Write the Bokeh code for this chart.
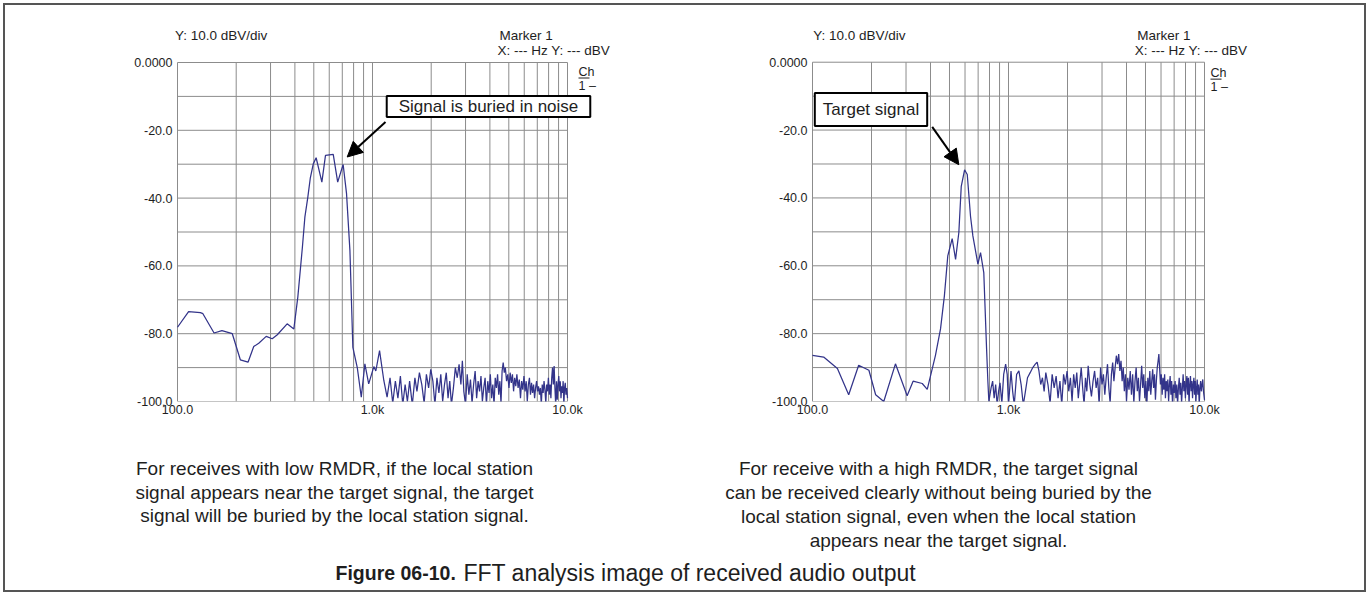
from bokeh.plotting import figure
from bokeh.models import FixedTicker, Label, Arrow, NormalHead, Range1d
from bokeh.layouts import column, row
from bokeh.embed import file_html
from bokeh.resources import INLINE

FONT = "Liberation Sans"
TXT = "#1e1e1e"
GRID = "#8c8c8c"
CURVE = "#33348a"

# ---------------- data ----------------
left_freq = [
    100, 114, 131, 135, 154, 169, 191, 210, 230, 246,
    261, 285, 306, 325, 365, 395, 414, 437, 450, 466,
    480, 497, 514, 550, 574, 629, 663, 707, 736, 766,
    793, 835, 876, 914, 956, 1016, 1040, 1087, 1143, 1188,
    1230, 1270, 1310, 1350, 1390, 1430, 1470, 1510, 1550, 1600,
    1650, 1690, 1740, 1790, 1840, 1890, 1940, 1990, 2040, 2090,
    2140, 2190, 2240, 2290, 2340, 2390, 2440, 2490, 2540, 2600,
    2660, 2720, 2780, 2840, 2890, 2940, 3000, 3060, 3120, 3180,
    3240, 3300, 3360, 3420, 3480, 3540, 3600, 3660, 3720, 3780,
    3840, 3900, 3960, 4020, 4080, 4140, 4200, 4260, 4320, 4380,
    4440, 4500, 4560, 4620, 4680, 4740, 4800, 4870, 4940, 5010,
    5080, 5150, 5220, 5290, 5360, 5430, 5500, 5580, 5660, 5740,
    5820, 5900, 5980, 6060, 6140, 6220, 6300, 6380, 6460, 6540,
    6620, 6700, 6780, 6860, 6940, 7020, 7100, 7180, 7260, 7340,
    7420, 7500, 7580, 7660, 7740, 7820, 7900, 7980, 8060, 8140,
    8220, 8300, 8380, 8460, 8540, 8620, 8700, 8780, 8860, 8940,
    9020, 9100, 9180, 9260, 9340, 9420, 9500, 9580, 9660, 9740,
    9820, 9900, 10000,
]
left_db = [
    -78.1, -73.5, -73.8, -74.1, -79.8, -79.1, -80.0, -87.7, -88.4, -83.8,
    -82.8, -80.8, -81.5, -80.3, -77.1, -78.6, -69.2, -54.5, -45.6, -39.7,
    -34.0, -29.9, -28.1, -35.3, -27.4, -27.1, -35.3, -30.1, -38.7, -55.5,
    -84.0, -89.9, -98.7, -88.9, -94.8, -89.7, -91.0, -85.0, -93.8, -98.7,
    -93.0, -100.5, -94.0, -99.0, -92.5, -101.0, -95.0, -100.0, -94.0, -101.0,
    -93.0, -97.0, -91.5, -95.0, -100.5, -92.0, -96.0, -90.5, -94.0, -101.0,
    -93.0, -97.5, -92.0, -100.0, -95.0, -91.5, -99.0, -94.0, -101.0, -96.0,
    -90.0, -93.0, -89.0, -95.0, -88.0, -97.0, -101.0, -92.0, -98.0, -93.5,
    -100.5, -95.0, -91.0, -99.0, -94.0, -97.0, -92.5, -100.0, -96.0, -93.0,
    -101.0, -94.0, -97.5, -92.0, -99.0, -95.0, -101.0, -93.0, -96.0, -92.0,
    -98.0, -94.0, -100.5, -91.0, -88.5, -91.5, -90.0, -94.0, -92.0, -96.0,
    -91.5, -94.5, -92.0, -97.0, -93.0, -95.5, -92.0, -96.0, -93.5, -99.0,
    -94.0, -96.5, -92.5, -97.0, -94.0, -100.0, -95.0, -93.0, -98.0, -94.5,
    -97.5, -95.0, -99.0, -96.0, -94.0, -97.0, -95.5, -98.0, -96.0, -101.0,
    -95.0, -97.5, -94.0, -96.5, -100.5, -95.0, -97.0, -93.0, -98.0, -95.0,
    -99.0, -93.0, -90.0, -95.0, -89.5, -96.0, -101.0, -94.0, -99.5, -95.0,
    -92.5, -97.0, -94.0, -99.0, -95.5, -97.5, -94.0, -101.0, -96.0, -94.5,
    -98.0, -96.0, -99.0,
]

right_freq = [
    100, 114, 134, 153, 172, 194, 210, 231, 265, 304,
    326, 363, 385, 424, 450, 471, 490, 516, 537, 558,
    574, 597, 616, 640, 658, 698, 720, 748, 773, 785,
    794, 815, 830, 845, 860, 875, 890, 905, 925, 945,
    967, 985, 1000, 1030, 1050, 1070, 1100, 1130, 1160, 1190,
    1220, 1250, 1290, 1330, 1370, 1400, 1430, 1460, 1490, 1520,
    1550, 1590, 1630, 1670, 1710, 1750, 1790, 1830, 1870, 1910,
    1950, 1990, 2030, 2070, 2110, 2150, 2190, 2230, 2270, 2310,
    2350, 2390, 2430, 2470, 2510, 2550, 2600, 2650, 2700, 2750,
    2800, 2850, 2900, 2950, 3000, 3050, 3100, 3150, 3200, 3250,
    3300, 3350, 3400, 3450, 3500, 3550, 3600, 3650, 3700, 3750,
    3800, 3850, 3900, 3950, 4000, 4060, 4120, 4180, 4240, 4300,
    4360, 4420, 4480, 4540, 4600, 4660, 4720, 4780, 4840, 4900,
    4960, 5020, 5080, 5140, 5200, 5260, 5320, 5380, 5440, 5500,
    5560, 5620, 5680, 5740, 5800, 5850, 5900, 5960, 6020, 6080,
    6140, 6200, 6260, 6320, 6380, 6440, 6500, 6560, 6620, 6680,
    6740, 6800, 6870, 6940, 7010, 7080, 7150, 7220, 7290, 7360,
    7430, 7500, 7570, 7640, 7710, 7780, 7850, 7920, 7990, 8060,
    8130, 8200, 8270, 8340, 8410, 8480, 8550, 8620, 8690, 8760,
    8830, 8900, 8970, 9040, 9110, 9180, 9250, 9320, 9400, 9480,
    9560, 9640, 9720, 9800, 9880, 10000,
]
right_db = [
    -86.4, -86.9, -90.3, -98.0, -89.3, -90.8, -98.0, -100.0, -88.9, -98.3,
    -94.0, -94.7, -96.4, -86.4, -78.6, -68.8, -57.1, -52.0, -58.1, -50.2,
    -36.6, -31.7, -33.1, -45.4, -51.2, -59.5, -56.1, -62.0, -84.5, -94.2,
    -100.0, -96.0, -94.0, -99.0, -95.0, -101.0, -97.0, -94.5, -100.5, -92.0,
    -89.0, -92.0, -101.0, -91.0, -97.0, -101.0, -92.0, -91.0, -95.0, -101.0,
    -97.0, -93.0, -91.5, -90.0, -89.0, -88.4, -91.0, -95.0, -93.0, -97.0,
    -91.5, -95.0, -100.5, -92.0, -96.0, -92.5, -99.0, -94.0, -101.0, -92.0,
    -95.0, -91.0, -97.0, -93.0, -100.0, -92.0, -96.0, -91.5, -99.0, -94.5,
    -90.0, -96.0, -101.0, -93.0, -97.0, -89.5, -95.0, -98.5, -94.0, -91.0,
    -96.0, -93.0, -101.0, -90.0, -95.0, -92.0, -98.0, -93.0, -89.0, -96.0,
    -100.5, -92.0, -88.5, -94.0, -90.0, -86.5, -89.0, -86.0, -91.0, -88.0,
    -94.0, -90.0, -97.0, -92.0, -100.0, -93.0, -96.5, -91.0, -98.0, -92.0,
    -100.5, -94.0, -90.0, -97.0, -93.0, -100.0, -95.0, -89.5, -96.0, -92.0,
    -99.0, -94.0, -101.0, -93.0, -97.0, -91.0, -98.0, -94.0, -90.5, -96.0,
    -92.0, -99.5, -94.0, -90.0, -88.0, -86.0, -90.0, -95.0, -92.0, -98.0,
    -93.0, -96.5, -92.0, -99.0, -94.0, -97.0, -93.5, -100.0, -95.0, -92.5,
    -98.0, -94.0, -101.0, -95.0, -97.5, -94.0, -99.0, -95.0, -101.0, -96.0,
    -93.0, -98.0, -94.5, -100.5, -96.0, -92.0, -97.0, -94.0, -99.0, -95.0,
    -92.5, -98.0, -93.0, -101.0, -95.0, -92.5, -97.0, -94.0, -99.0, -95.0,
    -93.0, -98.0, -94.0, -100.0, -96.0, -93.5, -98.0, -95.0, -101.0, -96.0,
    -94.0, -97.0, -95.0, -93.5, -97.0, -99.5,
]

x_lo, x_hi = 100, 10000
y_lo, y_hi = -100, 0
x_major = [100, 1000, 10000]
x_major_labels = ["100.0", "1.0k", "10.0k"]
y_major = [0, -20, -40, -60, -80, -100]
y_major_labels = ["0.0000", "-20.0", "-40.0", "-60.0", "-80.0", "-100.0"]
x_grid = [100, 200, 300, 400, 500, 600, 700, 800, 900,
          1000, 2000, 3000, 4000, 5000, 6000, 7000, 8000, 9000, 10000]
y_grid = [0, -10, -20, -30, -40, -50, -60, -70, -80, -90, -100]

header_scale = "Y: 10.0 dBV/div"
header_marker = "Marker 1"
header_xy = "X: --- Hz Y: --- dBV"
left_note = "Signal is buried in noise"
right_note = "Target signal"
left_caption = [
    "For receives with low RMDR, if the local station",
    "signal appears near the target signal, the target",
    "signal will be buried by the local station signal.",
]
right_caption = [
    "For receive with a high RMDR, the target signal",
    "can be received clearly without being buried by the",
    "local station signal, even when the local station",
    "appears near the target signal.",
]
fig_bold = "Figure 06-10."
fig_rest = "FFT analysis image of received audio output"

# ---------------- layout constants (pixels) ----------------
CHART_H = 420
CAP_H = 165
LEFT_W = 680
RIGHT_W = 679


def make_panel(freq, db, width, frame_left, px100, px10k, py0, py100, standoff):
    """Chart whose frame extends to the right / top edges so that the
    surrounding annotations are not clipped; the grid is limited to the
    100 Hz..10 kHz / 0..-100 dB area."""
    def cx(px):
        return 10 ** (2 + 2 * (px - px100) / (px10k - px100))

    def cy(py):
        return -100 * (py - py0) / (py100 - py0)

    p = figure(width=width, height=CHART_H, x_axis_type="log",
               x_range=Range1d(cx(frame_left), cx(width)),
               y_range=Range1d(cy(py100), cy(0)),
               output_backend="svg", toolbar_location=None,
               min_border_left=frame_left, min_border_right=0,
               min_border_top=0, min_border_bottom=CHART_H - py100)
    p.background_fill_color = "white"
    p.border_fill_color = "white"
    p.outline_line_color = None
    p.grid.visible = False

    xa = p.xaxis[0]
    xa.ticker = FixedTicker(ticks=x_major)
    xa.major_label_overrides = {v: s for v, s in zip(x_major, x_major_labels)}
    xa.major_label_standoff = 1
    ya = p.yaxis[0]
    ya.ticker = FixedTicker(ticks=y_major)
    ya.major_label_overrides = {v: s for v, s in zip(y_major, y_major_labels)}
    ya.major_label_standoff = standoff
    for ax in (xa, ya):
        ax.axis_line_color = None
        ax.major_tick_line_color = None
        ax.minor_tick_line_color = None
        ax.major_tick_in = 0
        ax.major_tick_out = 0
        ax.minor_tick_in = 0
        ax.minor_tick_out = 0
        ax.major_label_text_font = FONT
        ax.major_label_text_font_size = "12.5px"
        ax.major_label_text_color = TXT

    # grid (log verticals, 10 dB horizontals) limited to the chart area
    p.segment(x0=x_grid, y0=[y_lo] * len(x_grid), x1=x_grid, y1=[y_hi] * len(x_grid),
              line_color=GRID, line_width=1)
    p.segment(x0=[x_lo] * len(y_grid), y0=y_grid, x1=[x_hi] * len(y_grid), y1=y_grid,
              line_color=GRID, line_width=1)

    p.line(freq, db, line_color=CURVE, line_width=1.25)

    def conv(px, py):
        return cx(px), cy(py)

    return p, conv


def add_text(p, conv, px, py, text, size="13.5px", align="left", style="normal", **kw):
    x, y = conv(px, py)
    p.add_layout(Label(x=x, y=y, text=text, text_font=FONT, text_font_size=size,
                       text_align=align, text_baseline="middle", text_color=TXT,
                       text_font_style=style, **kw))


def add_line(p, conv, p0, p1, width=1, color=TXT, head=None):
    x0, y0 = conv(*p0)
    x1, y1 = conv(*p1)
    p.add_layout(Arrow(x_start=x0, y_start=y0, x_end=x1, y_end=y1,
                       line_color=color, line_width=width, end=head))


def decorate(p, conv, hx, mx, xyx, chx, ch_y):
    add_text(p, conv, hx, 30, header_scale)
    add_text(p, conv, mx, 30, header_marker)
    add_text(p, conv, xyx, 45, header_xy)
    add_text(p, conv, chx, ch_y, "Ch", size="12.5px")
    add_line(p, conv, (chx, ch_y + 6.5), (chx + 11, ch_y + 6.5), width=1)
    add_text(p, conv, chx, ch_y + 14, "1 \u2013", size="12.5px")


# ---------------- left panel ----------------
f1, c1 = make_panel(left_freq, left_db, LEFT_W, 169, 172, 562, 57, 396, 2)
decorate(f1, c1, 169.5, 494, 492, 573, 66)
add_text(f1, c1, 483, 101, left_note, size="17px", align="center",
         border_line_color="black", border_line_width=2,
         background_fill_color="white", padding=(12, 1))
add_line(f1, c1, (380, 116.5), (341.7, 151.5), width=2, color="black",
         head=NormalHead(size=15, fill_color="black", line_color="black"))

# ---------------- right panel ----------------
f2, c2 = make_panel(right_freq, right_db, RIGHT_W, 124, 127, 519, 57, 398, 2)
decorate(f2, c2, 127.7, 451.7, 449.3, 525, 67.5)
add_text(f2, c2, 185.5, 104.5, right_note, size="17px", align="center",
         border_line_color="black", border_line_width=2,
         background_fill_color="white", padding=(8, 7))
add_line(f2, c2, (246.7, 122), (273.3, 160), width=2, color="black",
         head=NormalHead(size=15, fill_color="black", line_color="black"))

# ---------------- captions ----------------
f3 = figure(width=LEFT_W + RIGHT_W, height=CAP_H,
            x_range=Range1d(0, LEFT_W + RIGHT_W), y_range=Range1d(CAP_H, 0),
            output_backend="svg", toolbar_location=None,
            x_axis_location=None, y_axis_location=None, min_border=0)
f3.grid.visible = False
f3.outline_line_color = None
f3.background_fill_color = "white"
f3.border_fill_color = "white"


def cap(x, y, text, size, align="center", style="normal"):
    f3.add_layout(Label(x=x, y=y, text=text, text_font=FONT, text_font_size=size,
                        text_font_style=style, text_align=align,
                        text_baseline="middle", text_color=TXT))


for i, t in enumerate(left_caption):
    cap(329, 43 + i * 23.5, t, "19px")
for i, t in enumerate(right_caption):
    cap(933, 43 + i * 24, t, "19px")
cap(330, 147, fig_bold, "19.5px", align="left", style="bold")
cap(458, 147, fig_rest, "23px", align="left")

layout = column(row(f1, f2), f3,
                styles={"border": "2px solid #555555", "margin": "3px 0 0 3px"})

open("out.html", "w").write(file_html(layout, INLINE))
